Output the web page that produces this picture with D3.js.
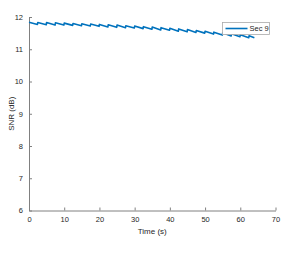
<!DOCTYPE html>
<head>
  <meta charset="utf-8">
  <script src="https://d3js.org/d3.v7.min.js"></script>
  <style>
    body { margin:0; background:#fff; }
    text { font-family: 'Liberation Sans', Arial, sans-serif; fill:#262626; }
    .axis path, .axis line { stroke:#808080; }
    .axis text { font-size:7.5px; fill:#262626; }
    .label { font-size:8px; }
    .snr-line { fill:none; stroke:#0072BD; stroke-width:1.6; stroke-linejoin:round; }
  </style>
</head>
<body>
  <script>
    var time = [0, 2.4, 2.5, 4.9, 5, 7.4, 7.5, 9.9, 10, 12.4, 12.5, 14.9, 15, 17.4, 17.5, 19.9,
                20, 22.4, 22.5, 24.9, 25, 27.4, 27.5, 29.9, 30, 32.4, 32.5, 34.9, 35, 37.4, 37.5, 39.9,
                40, 42.4, 42.5, 44.9, 45, 47.4, 47.5, 49.9, 50, 52.4, 52.5, 54.9, 55, 57.4, 57.5, 59.9,
                60, 62.4, 62.5, 64];
    var snr = [11.84, 11.77, 11.83, 11.76, 11.83, 11.75, 11.82, 11.75, 11.81, 11.74, 11.80, 11.73, 11.79, 11.72, 11.78, 11.71,
               11.77, 11.69, 11.76, 11.68, 11.75, 11.67, 11.73, 11.66, 11.72, 11.64, 11.70, 11.62, 11.69, 11.60, 11.67, 11.59,
               11.65, 11.56, 11.63, 11.54, 11.61, 11.52, 11.58, 11.50, 11.56, 11.47, 11.53, 11.44, 11.51, 11.41, 11.48, 11.39,
               11.45, 11.36, 11.42, 11.36];
    var xTicks = [0, 10, 20, 30, 40, 50, 60, 70];
    var yTicks = [6, 7, 8, 9, 10, 11, 12];
    var seriesName = "Sec 9";

    var width = 293, height = 258;
    var svg = d3.select("body").append("svg")
        .attr("width", width)
        .attr("height", height);

    var x = d3.scaleLinear().domain([0, 70]).range([29, 275.5]);
    var y = d3.scaleLinear().domain([6, 12]).range([210.5, 17]);

    var xAxis = d3.axisBottom(x).tickValues(xTicks).tickFormat(d3.format("d"))
      .tickSize(-3).tickPadding(6).tickSizeOuter(0);
    var yAxis = d3.axisLeft(y).tickValues(yTicks).tickFormat(d3.format("d"))
      .tickSize(-3).tickPadding(6).tickSizeOuter(0);

    svg.append("g")
      .attr("class", "axis")
      .attr("transform", "translate(0," + y(6) + ")")
      .call(xAxis);

    svg.append("g")
      .attr("class", "axis")
      .attr("transform", "translate(" + x(0) + ",0)")
      .call(yAxis);

    var data = time.map((t, i) => ({t: t, v: snr[i]}));

    var line = d3.line()
      .x(d => x(d.t))
      .y(d => y(d.v));

    svg.append("path")
      .datum(data)
      .attr("class", "snr-line")
      .attr("d", line);

    svg.append("text")
      .attr("class", "label")
      .attr("x", (x(0) + x(70)) / 2)
      .attr("y", 234)
      .attr("text-anchor", "middle")
      .text("Time (s)");

    svg.append("text")
      .attr("class", "label")
      .attr("text-anchor", "middle")
      .attr("transform", "translate(14," + ((y(6) + y(12)) / 2) + ") rotate(-90)")
      .text("SNR (dB)");

    // legend
    var legend = svg.append("g").attr("transform", "translate(222.5,22.5)");
    legend.append("rect")
      .attr("width", 47)
      .attr("height", 12)
      .attr("fill", "#fff")
      .attr("stroke", "#aaa")
      .attr("stroke-width", 0.8);
    legend.append("line")
      .attr("x1", 3).attr("x2", 25)
      .attr("y1", 6).attr("y2", 6)
      .attr("stroke", "#0072BD")
      .attr("stroke-width", 1.6);
    legend.append("text")
      .attr("x", 27)
      .attr("y", 8.8)
      .style("font-size", "7.5px")
      .text(seriesName);
  </script>
</body>
